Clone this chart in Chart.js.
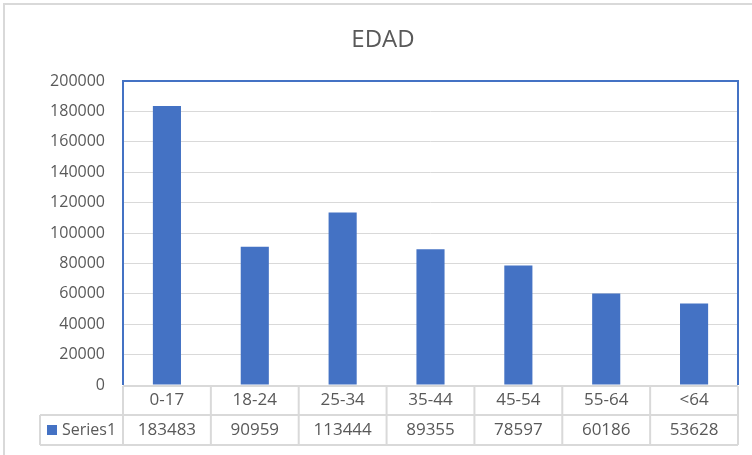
<!DOCTYPE html>
<html>
<head>
<meta charset="utf-8">
<script src="https://cdn.jsdelivr.net/npm/chart.js@4"></script>
<style>
  body { margin: 0; background: #fff; }
  canvas { display: block; }
</style>
</head>
<body>
<canvas id="myChart" width="752" height="455"></canvas>
<script>
const categories = ["0-17", "18-24", "25-34", "35-44", "45-54", "55-64", "<64"];
const series1 = [183483, 90959, 113444, 89355, 78597, 60186, 53628];
const seriesName = "Series1";
const chartTitle = "EDAD";
const yTicks = [0, 20000, 40000, 60000, 80000, 100000, 120000, 140000, 160000, 180000, 200000];

const FONT = "'Open Sans', 'Liberation Sans', sans-serif";
const TEXT = "#595959";
const LINE = "#d9d9d9";
const BLUE = "#4472c4";

// marco exterior, titulo, borde azul del area y tabla de datos
const tablePlugin = {
    id: "dataTable",
    beforeDraw(chart) {
        const ctx = chart.ctx;
        ctx.save();
        ctx.fillStyle = "#fff";
        ctx.fillRect(0, 0, chart.width, chart.height);
        ctx.strokeStyle = LINE;
        ctx.lineWidth = 2;
        ctx.beginPath();
        ctx.moveTo(4, chart.height + 5);
        ctx.lineTo(4, 4);
        ctx.lineTo(chart.width + 5, 4);
        ctx.stroke();

        // el titulo va centrado sobre el marco completo (mas ancho que la imagen)
        ctx.fillStyle = TEXT;
        ctx.font = "24px " + FONT;
        ctx.textAlign = "center";
        ctx.textBaseline = "middle";
        ctx.fillText(chartTitle, 383, 40);
        ctx.restore();
    },
    afterDraw(chart) {
        const ctx = chart.ctx;
        const area = chart.chartArea;
        const x = chart.scales.x;
        const step = (area.right - area.left) / categories.length;
        const r0 = area.bottom + 1, r1 = r0 + 29, r2 = r1 + 30;
        const legendLeft = 40;

        ctx.save();
        ctx.strokeStyle = LINE;
        ctx.lineWidth = 2;
        ctx.beginPath();
        ctx.moveTo(area.left, r0); ctx.lineTo(area.right, r0);
        ctx.moveTo(legendLeft, r1); ctx.lineTo(area.right, r1);
        ctx.moveTo(legendLeft, r2); ctx.lineTo(area.right, r2);
        ctx.moveTo(legendLeft, r1); ctx.lineTo(legendLeft, r2);
        for (let i = 0; i <= categories.length; i++) {
            const px = area.left + i * step;
            ctx.moveTo(px, r0); ctx.lineTo(px, r2);
        }
        ctx.stroke();

        ctx.fillStyle = TEXT;
        ctx.font = "17px " + FONT;
        ctx.textAlign = "center";
        ctx.textBaseline = "middle";
        categories.forEach((c, i) => {
            const cx = x.getPixelForValue(i);
            ctx.fillText(c, cx, (r0 + r1) / 2);
            ctx.fillText(String(series1[i]), cx, (r1 + r2) / 2);
        });

        // clave de leyenda
        ctx.fillStyle = BLUE;
        ctx.fillRect(47, (r1 + r2) / 2 - 5, 10, 10);
        ctx.fillStyle = TEXT;
        ctx.font = "16px " + FONT;
        ctx.textAlign = "left";
        ctx.fillText(seriesName, 62, (r1 + r2) / 2);

        // borde azul del area de trazado
        ctx.strokeStyle = BLUE;
        ctx.lineWidth = 2;
        ctx.beginPath();
        ctx.moveTo(area.left, area.bottom);
        ctx.lineTo(area.left, area.top);
        ctx.lineTo(area.right, area.top);
        ctx.lineTo(area.right, area.bottom);
        ctx.stroke();
        ctx.restore();
    }
};

const ctx = document.getElementById("myChart").getContext("2d");
const myChart = new Chart(ctx, {
    type: "bar",
    data: {
        labels: categories,
        datasets: [{
            label: seriesName,
            data: series1,
            backgroundColor: BLUE,
            barPercentage: 0.32,
            categoryPercentage: 1,
        }],
    },
    options: {
        responsive: false,
        animation: false,
        layout: {
            padding: { left: 0, right: 14, top: 81, bottom: 70 },
        },
        plugins: {
            legend: { display: false },
            tooltip: { enabled: false },
            title: { display: false },
        },
        scales: {
            x: {
                display: false,
            },
            y: {
                min: 0,
                max: 200000,
                afterBuildTicks: (scale) => {
                    scale.ticks = yTicks.map((v) => ({ value: v }));
                },
                afterFit: (scale) => {
                    scale.width = 123;
                },
                ticks: {
                    color: TEXT,
                    font: { family: FONT, size: 16 },
                    padding: 18,
                    callback: (v) => String(v),
                },
                grid: {
                    color: LINE,
                    drawTicks: false,
                },
                border: { display: false },
            },
        },
    },
    plugins: [tablePlugin],
});
</script>
</body>
</html>
